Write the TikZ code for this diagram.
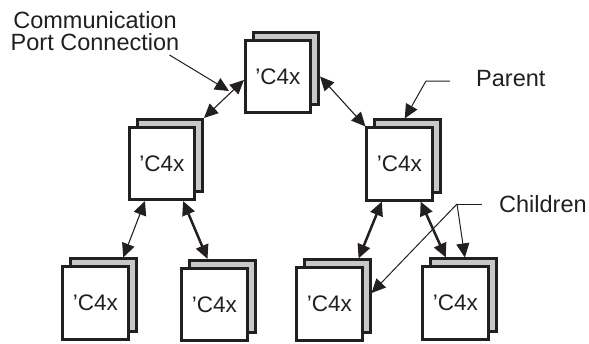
\documentclass[tikz,border=0pt]{standalone}
\usepackage{fontspec}
\setmainfont{Liberation Sans}
\usetikzlibrary{arrows.meta,calc}
\definecolor{ink}{HTML}{231F20}
\definecolor{shade}{HTML}{C7C8CA}
\newcommand\chipbox[3]{%
  \node[backbox] (#1s) at (#2+8,#3-8) {};
  \node[frontbox] (#1) at (#2,#3) {’C4x};
}
\begin{document}
\begin{tikzpicture}[x=1pt,y=-1pt,
  frontbox/.style={draw=ink,fill=white,line width=2.6pt,minimum width=65.5pt,minimum height=72.5pt,inner sep=0pt,font=\fontsize{22.5}{26}\selectfont,text=ink},
  backbox/.style={draw=ink,fill=shade,line width=2.6pt,minimum width=65.5pt,minimum height=72.5pt,inner sep=0pt},
  link/.style={draw=ink,line width=1.1pt,{Triangle[length=14pt,width=13pt]}-{Triangle[length=14pt,width=13pt]}},
  heavylink/.style={link,line width=2.5pt},
  pointer/.style={draw=ink,line width=1pt,-{Triangle[length=14pt,width=13pt]}},
  plainline/.style={draw=ink,line width=1pt},
  lbl/.style={inner sep=0pt,font=\fontsize{23.5}{24}\selectfont,text=ink}]
\useasboundingbox (0,0) rectangle (589,343);
\chipbox{b0}{278}{76.5}
\chipbox{b1}{162}{163.5}
\chipbox{b2}{399.5}{164}
\chipbox{b3}{95.5}{303}
\chipbox{b4}{214.5}{304.5}
\chipbox{b5}{329.5}{304}
\chipbox{b6}{455.5}{303}
% labels
\node[lbl,anchor=base] (comm1) at (95,28.3) {Communication};
\node[lbl,anchor=base] (comm2) at (95,50) {Port Connection};
\node[lbl,anchor=base west] (parent) at (476,86.7) {Parent};
\node[lbl,anchor=base west] (children) at (499,212) {Children};
% links
\draw[link] (b1s.north east) -- ($(b0.west)+(0,3.5)$);
\draw[link] ($(b0s.east)+(0,8)$) -- (b2.north west);
\draw[link] ($(b1.south west)!0.25!(b1.south east)$) -- ($(b3s.north west)!0.79!(b3s.north east)$);
\draw[heavylink] ($(b1.south west)!0.81!(b1.south east)$) -- ($(b4s.north west)!0.28!(b4s.north east)$);
\draw[heavylink] ($(b2.south west)!0.24!(b2.south east)$) -- ($(b5s.north west)!0.81!(b5s.north east)$);
\draw[heavylink] ($(b2.south west)!0.81!(b2.south east)$) -- ($(b6s.north west)!0.24!(b6s.north east)$);
% label pointers
\coordinate (commtail) at ($(comm2.base east)+(-10,5)$);
\coordinate (commtip) at (229,91);
\draw[pointer] (commtail) -- (commtip);
\coordinate (ptail) at ($(parent.base west)+(-26,-5.7)$);
\draw[pointer] (ptail) -- ++(-24,0) -- ($(b2s.north west)!0.46!(b2s.north east)$);
\coordinate (ctail) at ($(children.base west)+(-17,-8)$);
\draw[plainline] (ctail) -- ++(-25,0) coordinate (cfork);
\draw[pointer] (cfork) -- ($(b6s.north west)!0.52!(b6s.north east)$);
\draw[pointer] (cfork) -- ($(b5s.east)+(0,-3)$);
\end{tikzpicture}
\end{document}
